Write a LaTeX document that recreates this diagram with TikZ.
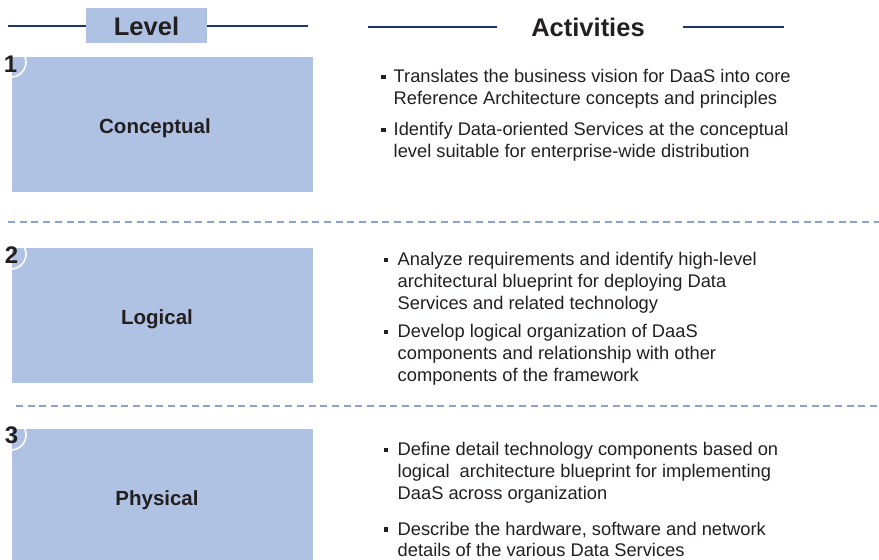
\documentclass[tikz,border=0pt]{standalone}
\usepackage{fontspec}
\setmainfont{Liberation Sans}
\definecolor{navy}{HTML}{1F3370}
\definecolor{boxblue}{HTML}{B0C2E3}
\definecolor{dashblue}{HTML}{8DA2D4}
\definecolor{ink}{HTML}{231F20}
\tikzset{
  hline/.style={draw=navy, line width=2pt},
  levelbox/.style={fill=boxblue, draw=none},
  sep/.style={draw=dashblue, line width=2pt, dash pattern=on 7pt off 4.7pt},
  ring/.style={draw=white, line width=1.6pt},
  num/.style={font=\fontsize{24}{24}\selectfont\bfseries, text=ink, anchor=base, inner sep=0pt},
  lab/.style={font=\fontsize{20.5}{22}\selectfont\bfseries, text=ink, anchor=base, inner sep=0pt},
  head/.style={font=\fontsize{25.5}{26}\selectfont\bfseries, text=ink, inner sep=0pt},
  txt/.style={font=\fontsize{18.3}{22}\selectfont, text=ink, anchor=base west, inner sep=0pt},
  bul/.style={fill=ink, draw=none, minimum size=4.6pt, inner sep=0pt, rectangle}
}
\begin{document}
\begin{tikzpicture}[x=1pt,y=-1pt]
\useasboundingbox (0,0) rectangle (879,560);
% headers
\coordinate (l1) at (8,26);
\coordinate (l2) at (308,26);
\draw[hline] (l1) -- (l2);
\fill[levelbox] (86,8) rectangle (207,43);
\node[head] (level) at (146.5,26.5) {Level};
\coordinate (a1) at (368,27);
\coordinate (a2) at (497,27);
\coordinate (a3) at (683,27);
\coordinate (a4) at (784,27);
\draw[hline] (a1) -- (a2);
\draw[hline] (a3) -- (a4);
\node[head] (act) at (588,27.5) {Activities};
% boxes
\fill[levelbox] (12,57) rectangle (313,191.5);
\fill[levelbox] (12,248) rectangle (313,383);
\fill[levelbox] (12,429) rectangle (313,560);
\begin{scope}
\clip (12,57) rectangle (313,191.5);
\draw[ring] (11,62) circle (15);
\end{scope}
\begin{scope}
\clip (12,248) rectangle (313,383);
\draw[ring] (11,254) circle (15);
\end{scope}
\begin{scope}
\clip (12,429) rectangle (313,560);
\draw[ring] (11,435) circle (15);
\end{scope}
\node[num] (n1) at (10.5,72) {1};
\node[num] (n2) at (11.5,263) {2};
\node[num] (n3) at (11.5,443) {3};
\node[lab] (c1) at (155,133) {Conceptual};
\node[lab] (c2) at (157,324.5) {Logical};
\node[lab] (c3) at (157,505) {Physical};
% separators
\coordinate (s1a) at (8,221.5);
\coordinate (s1b) at (879,221.5);
\coordinate (s2a) at (16,405.7);
\coordinate (s2b) at (879,405.7);
\draw[sep] (s1a) -- (s1b);
\draw[sep] (s2a) -- (s2b);
% block 1
\node[bul] (b11) at (383.5,77) {};
\node[txt] (t11) at (393.5,82.5) {Translates the business vision for DaaS into core};
\node[txt] (t12) at (393.5,104.5) {Reference Architecture concepts and principles};
\node[bul] (b12) at (383.5,130) {};
\node[txt] (t13) at (393.5,135.5) {Identify Data-oriented Services at the conceptual};
\node[txt] (t14) at (393.5,157.5) {level suitable for enterprise-wide distribution};
% block 2
\node[bul] (b21) at (386,260) {};
\node[txt] (t21) at (397.5,265.5) {Analyze requirements and identify high-level};
\node[txt] (t22) at (397.5,287.5) {architectural blueprint for deploying Data};
\node[txt] (t23) at (397.5,309.5) {Services and related technology};
\node[bul] (b22) at (386,332) {};
\node[txt] (t24) at (397.5,337.5) {Develop logical organization of DaaS};
\node[txt] (t25) at (397.5,359.5) {components and relationship with other};
\node[txt] (t26) at (397.5,381.5) {components of the framework};
% block 3
\node[bul] (b31) at (386,450) {};
\node[txt] (t31) at (397.5,455.5) {Define detail technology components based on};
\node[txt] (t32) at (397.5,477.5) {logical\ \ architecture blueprint for implementing};
\node[txt] (t33) at (397.5,499.5) {DaaS across organization};
\node[bul] (b32) at (386,529.5) {};
\node[txt] (t34) at (397.5,535) {Describe the hardware, software and network};
\node[txt] (t35) at (397.5,556) {details of the various Data Services};
\end{tikzpicture}
\end{document}
